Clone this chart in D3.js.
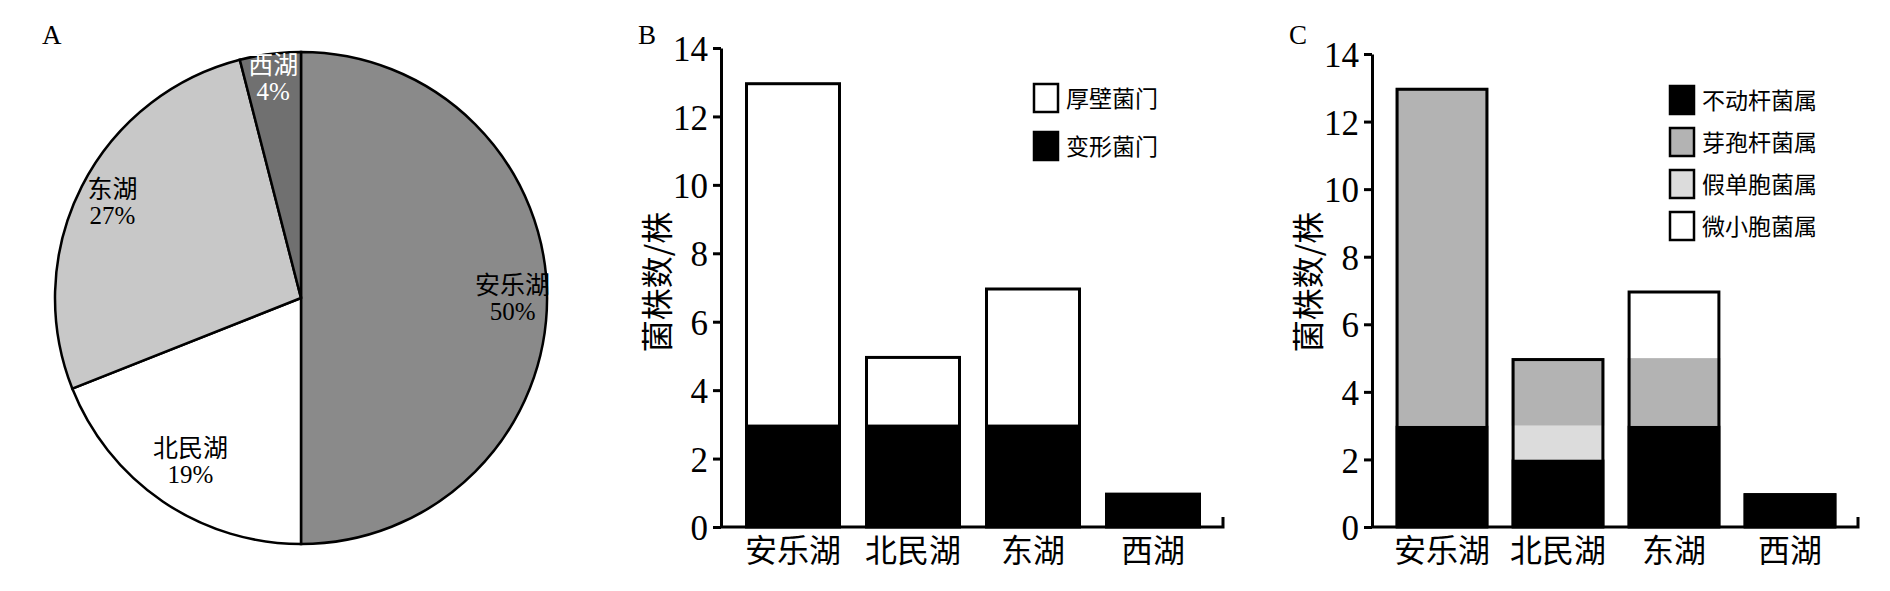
<!DOCTYPE html>
<html><head><meta charset="utf-8">
<script src="https://cdn.jsdelivr.net/npm/d3@7"></script>
<style>
body{margin:0;background:#fff}
text{font-family:"Liberation Serif","Noto Sans CJK SC",serif;fill:#000}
.cjk{font-family:"Noto Sans CJK SC",sans-serif}
</style></head>
<body><svg id="c" width="1890" height="591"></svg>
<script>
const lakes = ['安乐湖', '北民湖', '东湖', '西湖'];
const pieShare = [50, 19, 27, 4];
const pieColors = ['#8a8a8a', '#ffffff', '#c8c8c8', '#707070'];
const pieLabelColors = ['#000', '#000', '#000', '#fff'];
const pieLabelRadius = [0.86, 0.8, 0.86, 0.9];

const phylaB = ['变形菌门', '厚壁菌门'];
const proteobacteria = [3, 3, 3, 1];
const firmicutes = [10, 2, 4, 0];
const colorsB = ['#000', '#fff'];

const generaC = ['不动杆菌属', '芽孢杆菌属', '假单胞菌属', '微小胞菌属'];
const stackOrderC = ['不动杆菌属', '假单胞菌属', '芽孢杆菌属', '微小胞菌属'];
const acinetobacter = [3, 2, 3, 1];
const bacillus = [10, 2, 2, 0];
const pseudomonas = [0, 1, 0, 0];
const exiguobacterium = [0, 0, 2, 0];
const colorsC = ['#000', '#b3b3b3', '#dcdcdc', '#fff'];

const yTicks = [0, 2, 4, 6, 8, 10, 12, 14];

const svg = d3.select('#c');

// A: pie
const cx = 301, cy = 298, r = 246;
svg.append('text').attr('x', 42).attr('y', 44).attr('font-size', 27).text('A');
const pie = d3.pie().sort(null).value(d => d)(pieShare);
const arc = d3.arc().innerRadius(0).outerRadius(r);
const gp = svg.append('g').attr('transform', `translate(${cx},${cy})`);
gp.selectAll('path').data(pie).join('path')
  .attr('d', arc).attr('fill', (d, i) => pieColors[i])
  .attr('stroke', '#000').attr('stroke-width', 2.5);
pie.forEach((d, i) => {
  const a = (d.startAngle + d.endAngle) / 2, rr = r * pieLabelRadius[i];
  const x = Math.sin(a) * rr, y = -Math.cos(a) * rr;
  const t = gp.append('text').attr('text-anchor', 'middle').attr('font-size', 25)
    .style('fill', pieLabelColors[i]);
  t.append('tspan').attr('class', 'cjk').attr('x', x).attr('y', y - 4).text(lakes[i]);
  t.append('tspan').attr('x', x).attr('y', y + 22).text(pieShare[i] + '%');
});

function barPanel(opt) {
  const x = d3.scaleBand().domain(lakes).range([opt.x0 + 12, opt.x1 - 10]).paddingInner(0.2).paddingOuter(0.1);
  const y = d3.scaleLinear().domain([0, 14]).range([527, opt.top]);
  svg.append('text').attr('x', opt.x0 - 83).attr('y', 44).attr('font-size', 27).text(opt.letter);
  const rows = lakes.map((l, i) => {
    const o = {lake: l};
    opt.keys.forEach((k, j) => o[k] = opt.series[j][i]);
    return o;
  });
  const stack = d3.stack().keys(opt.order)(rows);
  stack.forEach(s => {
    svg.append('g').selectAll('rect').data(s.filter(d => d[1] > d[0])).join('rect')
      .attr('x', d => x(d.data.lake)).attr('width', x.bandwidth())
      .attr('y', d => y(d[1])).attr('height', d => y(d[0]) - y(d[1]))
      .attr('fill', opt.colors[opt.keys.indexOf(s.key)]);
  });
  const top = stack[stack.length - 1];
  svg.append('g').selectAll('rect').data(top).join('rect')
    .attr('x', d => x(d.data.lake) + 1.5).attr('width', x.bandwidth() - 3)
    .attr('y', d => y(d[1]) + 1.5).attr('height', d => y(0) - y(d[1]) - 1.5)
    .attr('fill', 'none').attr('stroke', '#000').attr('stroke-width', 3);
  const ya = svg.append('g').attr('transform', `translate(${opt.x0},0)`)
    .call(d3.axisLeft(y).tickValues(yTicks).tickSize(8).tickSizeOuter(0));
  ya.select('.domain').attr('stroke-width', 3);
  ya.selectAll('.tick line').attr('stroke-width', 3);
  ya.selectAll('.tick text').attr('font-size', 35).attr('dx', -2).attr('dy', '0.36em').style('font-family', 'Liberation Serif');
  const xa = svg.append('g').attr('transform', 'translate(0,527)')
    .call(d3.axisBottom(x).tickSize(0).tickPadding(12));
  xa.select('.domain').attr('d', `M${opt.x0},0H${opt.x1}V-10`).attr('stroke-width', 3);
  xa.selectAll('.tick text').attr('font-size', 32).style('font-family', 'Noto Sans CJK SC');
  svg.append('text').attr('class', 'cjk').attr('font-size', 32).attr('text-anchor', 'middle')
    .attr('transform', `translate(${opt.x0 - 52},282) rotate(-90)`).text('菌株数/株');
  const lg = svg.append('g');
  opt.legend.forEach((k, i) => {
    const ly = opt.legY + i * opt.legStep;
    lg.append('rect').attr('x', opt.legX).attr('y', ly).attr('width', 24).attr('height', 28)
      .attr('fill', opt.colors[opt.keys.indexOf(k)]).attr('stroke', '#000').attr('stroke-width', 2.5);
    lg.append('text').attr('class', 'cjk').attr('x', opt.legX + 32).attr('y', ly + 23)
      .attr('font-size', 23).text(k);
  });
}

barPanel({letter: 'B', x0: 721, x1: 1223, top: 48, keys: phylaB, order: phylaB,
  series: [proteobacteria, firmicutes], colors: colorsB,
  legend: ['厚壁菌门', '变形菌门'], legX: 1034, legY: 84, legStep: 48});
barPanel({letter: 'C', x0: 1372, x1: 1858, top: 54, keys: generaC, order: stackOrderC,
  series: [acinetobacter, bacillus, pseudomonas, exiguobacterium], colors: colorsC,
  legend: generaC, legX: 1670, legY: 86, legStep: 42});
</script></body></html>
